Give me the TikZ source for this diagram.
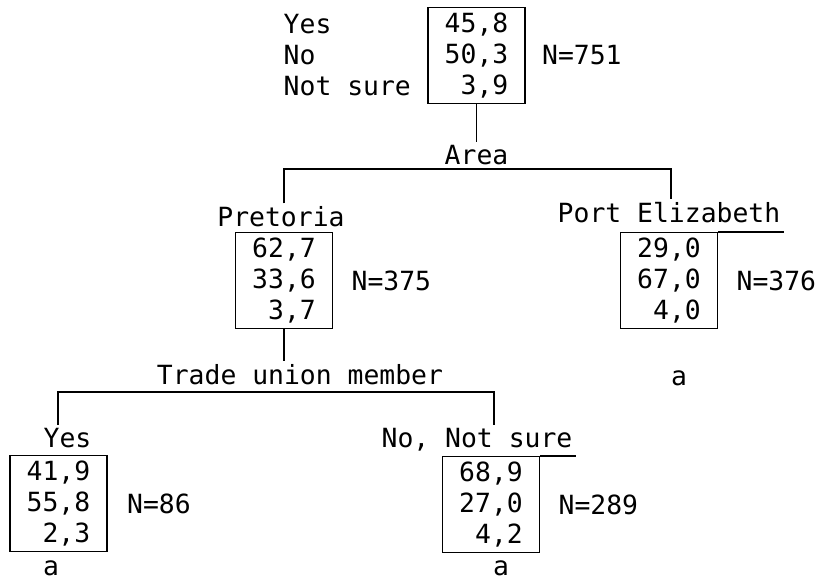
\documentclass[tikz,border=0pt]{standalone}
\usepackage{fontspec}
\newfontfamily\printfont{DejaVu Sans Mono}
\usetikzlibrary{positioning}

\begin{document}
\begin{tikzpicture}[
  x=1pt, y=-1pt,
  font=\printfont\fontsize{26.4}{31}\selectfont,
  tally/.style={draw, line width=1.2pt, minimum width=97pt, minimum height=96pt,
                align=right, inner sep=0pt},
  split/.style={line width=1.3pt},
  note/.style={inner sep=1pt},
]
\useasboundingbox (0,0) rectangle (817,581);

% root
\node[tally] (root) at (476.5,55.5) {45,8\\50,3\\3,9};
\node[align=left, left=13pt of root] (rootlab) {Yes\\No\\Not sure};
\node[right=13pt of root] (rootn) {N=751};

% first split
\node (arealab) at (476.5,155) {Area};
\draw[split] (root) -- (arealab);
\coordinate (areaw) at (284,169);
\coordinate (areae) at (671,169);
\node (prelab) at (281,217) {Pretoria};
\node (pelab) at (669,213) {Port Elizabeth};
\draw[split] (areaw |- prelab.north) -- (areaw) -- (areae) -- (areae |- pelab.north);

\node[tally] (pre) at (284,280.5) {62,7\\33,6\\3,7};
\node[right=15pt of pre] (pren) {N=375};
\node[tally] (pe) at (669,280.5) {29,0\\67,0\\4,0};
\node[right=15pt of pe] (pen) {N=376};
\draw[split] (pe.north east) -- (pe.north east -| pelab.east);
\node[note] (pea) at (679,378) {a};

% second split
\node (tradelab) at (300,375) {Trade union member};
\draw[split] (pre.south) -- (pre.south |- tradelab.north);
\coordinate (tradew) at (58,392);
\coordinate (tradee) at (494,392);
\node (yeslab) at (67.5,438) {Yes};
\node (nolab) at (477,440) {No, Not sure};
\draw[split] (tradew |- yeslab.north) -- (tradew) -- (tradee) -- (tradee |- nolab.north);

\node[tally] (yes) at (58.5,503.5) {41,9\\55,8\\2,3};
\node[right=16pt of yes] (yesn) {N=86};
\node[note] (yesa) at (51,568) {a};
\node[tally] (no) at (491,504.5) {68,9\\27,0\\4,2};
\node[right=15pt of no] (non) {N=289};
\draw[split] (no.north east) -- (no.north east -| nolab.east);
\node[note] (noa) at (501,568) {a};
\end{tikzpicture}
\end{document}
